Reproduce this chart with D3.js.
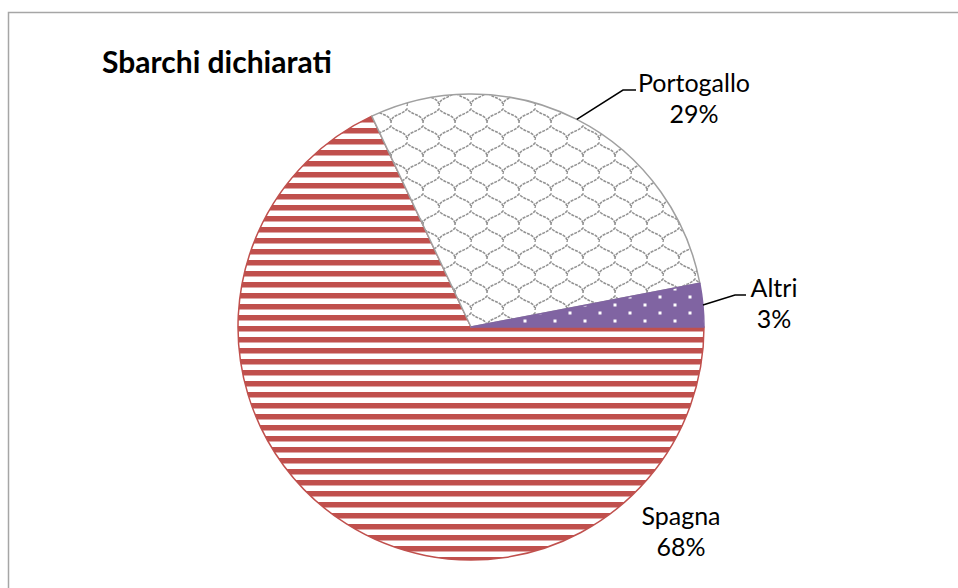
<!DOCTYPE html>
<html>
<head>
<meta charset="utf-8">
<script src="https://cdn.jsdelivr.net/npm/d3@7"></script>
<style>
  body { margin: 0; background: #fff; }
  svg { display: block; font-family: Lato, "Open Sans", sans-serif; }
</style>
</head>
<body>
<div id="chart"></div>
<script>
const categories = ["Spagna", "Portogallo", "Altri"];
const shares = [68, 29, 3];
const title = "Sbarchi dichiarati";

// label placement (text center x, first baseline y) and leader elbows
const labelPos = [[681, 525], [694, 92], [774, 297]];
const leaderElbow = [null, [[623, 90], [636, 90]], [[735, 295], [746, 295]]];

const width = 958, height = 588;
const cx = 471, cy = 327, radius = 233;

const svg = d3.select("#chart")
  .append("svg")
    .attr("width", width)
    .attr("height", height);

const defs = svg.append("defs");

// red horizontal stripes
const stripes = defs.append("pattern")
  .attr("id", "pStripes")
  .attr("patternUnits", "userSpaceOnUse")
  .attr("width", 11).attr("height", 11)
  .attr("y", 10);
stripes.append("rect").attr("width", 11).attr("height", 11).attr("fill", "#fff");
stripes.append("rect").attr("width", 11).attr("height", 5.5).attr("fill", "#c0504d");

// gray shingle
const shingle = defs.append("pattern")
  .attr("id", "pShingle")
  .attr("patternUnits", "userSpaceOnUse")
  .attr("width", 32).attr("height", 34);
shingle.append("rect").attr("width", 32).attr("height", 34).attr("fill", "#fff");
shingle.append("path")
  .attr("d", "M0,17 C0,8 10,10 16,3 C22,10 32,8 32,17 " +
             "M-16,34 C-16,25 -6,27 0,20 C6,27 16,25 16,34 " +
             "M16,34 C16,25 26,27 32,20 C38,27 48,25 48,34 " +
             "M-16,0 C-16,-9 -6,-7 0,-14 C6,-7 16,-9 16,0 " +
             "M16,0 C16,-9 26,-7 32,-14 C38,-7 48,-9 48,0")
  .attr("fill", "none")
  .attr("stroke", "#939393")
  .attr("stroke-width", 1.6)
  .attr("stroke-dasharray", "3 1");

// purple with white dots
const dots = defs.append("pattern")
  .attr("id", "pDots")
  .attr("patternUnits", "userSpaceOnUse")
  .attr("width", 30).attr("height", 16)
  .attr("x", 7.5).attr("y", 0.5);
dots.append("rect").attr("width", 30).attr("height", 16).attr("fill", "#8064a2");
dots.append("rect").attr("x", 0).attr("y", 0).attr("width", 3).attr("height", 3).attr("fill", "#fff");
dots.append("rect").attr("x", 15).attr("y", 8).attr("width", 3).attr("height", 3).attr("fill", "#fff");

const fills = ["url(#pStripes)", "url(#pShingle)", "url(#pDots)"];
const strokes = ["#c0504d", "#a0a0a0", "#8064a2"];

// chart frame (runs off the picture at right and bottom)
svg.append("rect")
  .attr("x", 8.5).attr("y", 12.5)
  .attr("width", 1000).attr("height", 1000)
  .attr("fill", "none")
  .attr("stroke", "#a6a6a6")
  .attr("stroke-width", 1.5);

svg.append("text")
  .attr("x", 102)
  .attr("y", 73)
  .attr("font-size", 30)
  .attr("font-weight", "bold")
  .attr("fill", "#000")
  .text(title);

const pie = d3.pie()
  .sort(null)
  .startAngle(Math.PI / 2)
  .endAngle(Math.PI / 2 + 2 * Math.PI);

const arcs = pie(shares);
const arc = d3.arc().innerRadius(0).outerRadius(radius);

const g = svg.append("g")
  .attr("transform", "translate(" + cx + "," + cy + ")");

g.selectAll("path.slice")
  .data(arcs)
  .enter()
  .append("path")
    .attr("class", "slice")
    .attr("d", arc)
    .attr("fill", (d, i) => fills[i])
    .attr("stroke", (d, i) => strokes[i])
    .attr("stroke-width", 1.5)
    .attr("stroke-linejoin", "round");

// leader lines
const edgeArc = d3.arc().innerRadius(radius).outerRadius(radius);
arcs.forEach((d, i) => {
  if (!leaderElbow[i]) return;
  const c = edgeArc.centroid(d);
  const pts = [[cx + c[0], cy + c[1]]].concat(leaderElbow[i]);
  svg.append("path")
    .attr("d", d3.line()(pts))
    .attr("fill", "none")
    .attr("stroke", "#000")
    .attr("stroke-width", 1.5);
});

// labels
arcs.forEach((d, i) => {
  const t = svg.append("text")
    .attr("text-anchor", "middle")
    .attr("font-size", 25)
    .attr("fill", "#000");
  t.append("tspan")
    .attr("x", labelPos[i][0])
    .attr("y", labelPos[i][1])
    .text(categories[i]);
  t.append("tspan")
    .attr("x", labelPos[i][0])
    .attr("y", labelPos[i][1] + 31)
    .text(shares[i] + "%");
});
</script>
</body>
</html>
